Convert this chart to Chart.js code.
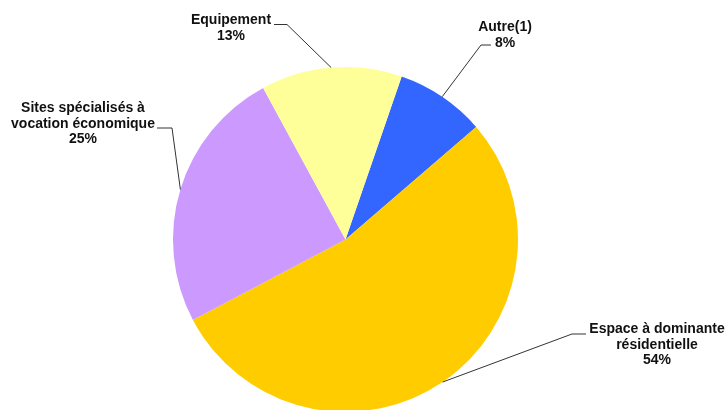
<!DOCTYPE html>
<html>
<head>
<meta charset="utf-8">
<script src="https://cdn.jsdelivr.net/npm/chart.js@4"></script>
<style>
  html, body { margin: 0; padding: 0; background: #fff; overflow: hidden; }
  #wrap { position: relative; width: 725px; height: 420px; }
</style>
</head>
<body>
<div id="wrap"><canvas id="pieChart"></canvas></div>
<script>
// Pie data (labels show rounded %)
const categories = [
  "Autre(1)",
  "Espace à dominante|résidentielle",
  "Sites spécialisés à|vocation économique",
  "Equipement",
];
const shares = [8.4, 53.6, 24.8, 13.2];
const colors = ["#3366FF", "#FFCC00", "#CC99FF", "#FFFF99"];

// Label layout: text centre / first baseline, elbow of leader line and end of the short horizontal
const labelLayout = [
  { cx: 505, y: 31, elbow: [481, 45], end: [491, 45] },
  { cx: 657, y: 333, elbow: [572, 334], end: [586, 334] },
  { cx: 83, y: 112, elbow: [172, 128], end: [157, 128] },
  { cx: 231, y: 24, elbow: [287, 24.5], end: [274, 24.5] },
];

// Plugin to draw leader lines and labels
const leaderLabels = {
  id: "leaderLabels",
  afterDraw(chart) {
    const ctx = chart.ctx;
    const meta = chart.getDatasetMeta(0);
    const total = shares.reduce((a, b) => a + b, 0);
    ctx.save();
    meta.data.forEach((arc, i) => {
      const mid = (arc.startAngle + arc.endAngle) / 2;
      const ax = arc.x + Math.cos(mid) * arc.outerRadius;
      const ay = arc.y + Math.sin(mid) * arc.outerRadius;
      const lay = labelLayout[i];

      ctx.strokeStyle = "#333";
      ctx.lineWidth = 1;
      ctx.beginPath();
      ctx.moveTo(ax, ay);
      ctx.lineTo(lay.elbow[0], lay.elbow[1]);
      ctx.lineTo(lay.end[0], lay.end[1]);
      ctx.stroke();

      const lines = categories[i].split("|");
      lines.push(Math.round((shares[i] / total) * 100) + "%");
      ctx.fillStyle = "#111";
      ctx.font = "bold 14px 'Liberation Sans', Arial, sans-serif";
      ctx.textAlign = "center";
      ctx.textBaseline = "alphabetic";
      lines.forEach((t, k) => {
        ctx.fillText(t, lay.cx, lay.y + k * 15.5);
      });
    });
    ctx.restore();
  },
};

const ctx = document.getElementById("pieChart").getContext("2d");
const chart = new Chart(ctx, {
  type: "pie",
  data: {
    labels: categories.map((c) => c.replace("|", " ")),
    datasets: [
      {
        data: shares,
        backgroundColor: colors,
        borderWidth: 0,
      },
    ],
  },
  options: {
    responsive: true,
    maintainAspectRatio: false,
    animation: false,
    rotation: 19,
    layout: {
      padding: { top: 67, bottom: 8, left: 0, right: 34 },
    },
    plugins: {
      legend: { display: false },
      tooltip: { enabled: false },
    },
  },
  plugins: [leaderLabels],
});
</script>
</body>
</html>
